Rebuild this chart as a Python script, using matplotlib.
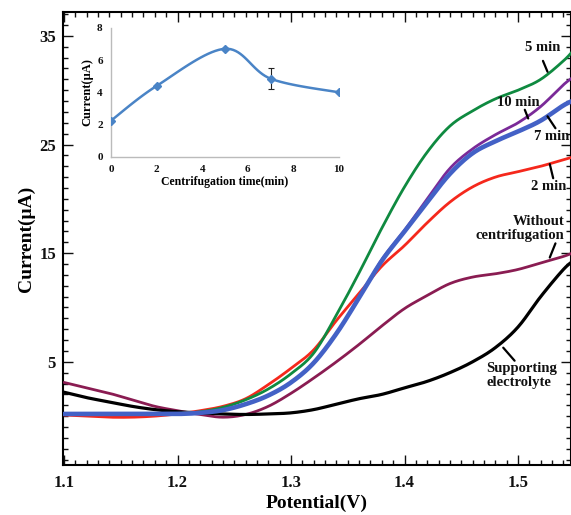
import numpy as np
import matplotlib
matplotlib.use("Agg")
import matplotlib.pyplot as plt
from matplotlib.ticker import MultipleLocator, FixedLocator

plt.rcParams['font.family'] = ['Liberation Serif', 'DejaVu Serif']
plt.rcParams['font.weight'] = 'bold'

# ---------------- data ----------------
potential = [1.10, 1.12, 1.14, 1.16, 1.18, 1.20, 1.22, 1.24, 1.26, 1.28, 1.30, 1.32,
             1.34, 1.36, 1.38, 1.40, 1.42, 1.44, 1.46, 1.48, 1.50, 1.52, 1.54, 1.55]

i_5min = [0.2, 0.2, 0.2, 0.2, 0.2, 0.25, 0.4, 0.8, 1.5, 2.5, 3.9, 5.8,
          9.3, 13.2, 17.3, 21.1, 24.3, 26.7, 28.1, 29.2, 30.0, 31.0, 32.7, 33.8]
i_10min = [0.2, 0.2, 0.2, 0.2, 0.2, 0.2, 0.3, 0.55, 1.1, 1.9, 3.1, 4.9,
           7.6, 10.9, 14.4, 17.1, 20.0, 22.8, 24.6, 25.9, 27.0, 28.5, 30.5, 31.3]
i_7min = [0.2, 0.2, 0.2, 0.2, 0.2, 0.2, 0.3, 0.55, 1.1, 1.9, 3.1, 4.9,
          7.6, 10.9, 14.3, 17.0, 19.7, 22.3, 24.2, 25.3, 26.2, 27.2, 28.6, 29.1]
i_2min = [0.1, 0.0, -0.1, -0.1, 0.0, 0.2, 0.5, 0.9, 1.6, 2.9, 4.4, 6.1,
          8.8, 11.3, 13.8, 15.7, 17.8, 19.7, 21.1, 22.0, 22.5, 23.0, 23.6, 23.9]
i_without = [3.1, 2.6, 2.1, 1.5, 0.9, 0.5, 0.15, -0.1, 0.15, 0.9, 2.1, 3.5,
             5.0, 6.6, 8.3, 9.9, 11.1, 12.2, 12.8, 13.1, 13.5, 14.1, 14.7, 15.1]
i_support = [2.2, 1.7, 1.3, 0.9, 0.6, 0.4, 0.3, 0.2, 0.15, 0.2, 0.3, 0.6,
             1.1, 1.6, 2.0, 2.6, 3.2, 4.0, 5.0, 6.3, 8.2, 11.0, 13.5, 14.4]

inset_time = [0, 2, 5, 7, 10]
inset_current = [2.25, 4.4, 6.7, 4.85, 4.0]
inset_err = [0, 0, 0, 0.65, 0]

x_major = [1.1, 1.2, 1.3, 1.4, 1.5]
y_major = [5, 15, 25, 35]


def smooth(xs, ys, n=20):
    """Bezier (Catmull-Rom style) smoothing for drawing through the points."""
    P = np.column_stack([xs, ys]).astype(float)
    Pe = np.vstack([P[0], P, P[-1]])
    out = []
    t = np.linspace(0, 1, n)[:, None]
    for i in range(len(P) - 1):
        p0, p1, p2, p3 = Pe[i], Pe[i + 1], Pe[i + 2], Pe[i + 3]
        c1 = p1 + (p2 - p0) / 6.0
        c2 = p2 - (p3 - p1) / 6.0
        seg = ((1 - t) ** 3) * p1 + 3 * ((1 - t) ** 2) * t * c1 + 3 * (1 - t) * t ** 2 * c2 + t ** 3 * p2
        out.append(seg if i == 0 else seg[1:])
    out = np.vstack(out)
    return out[:, 0], out[:, 1]


fig = plt.figure(figsize=(5.71, 5.15), dpi=100)
ax = fig.add_axes([63 / 571, 50 / 515, 1 - 63 / 571, 453 / 515])

series = [
    (i_without, '#8a1c52', 2.0),
    (i_support, '#000000', 2.3),
    (i_2min, '#f5281c', 2.0),
    (i_5min, '#0f8a40', 2.0),
    (i_10min, '#7a2a98', 2.0),
    (i_7min, '#4361c6', 3.3),
]
for ys, col, lw in series:
    sx, sy = smooth(potential, ys)
    ax.plot(sx, sy, color=col, lw=lw, solid_capstyle='round', zorder=3)

ax.set_xlim(1.0991, 1.5467)
ax.set_ylim(-4.5, 37.2)
ax.xaxis.set_major_locator(FixedLocator(x_major))
ax.xaxis.set_minor_locator(MultipleLocator(0.01))
ax.yaxis.set_major_locator(FixedLocator(y_major))
ax.yaxis.set_minor_locator(MultipleLocator(1))
ax.tick_params(which='both', direction='in', top=True, right=True, width=1.0,
               labelsize=12, colors='#111111')
ax.tick_params(which='major', length=7)
ax.tick_params(which='minor', length=3.5)
ax.tick_params(axis='x', pad=7)
ax.tick_params(axis='y', pad=5)
ax.set_xticklabels([f"{v:.1f}" for v in x_major], fontweight='bold')
ax.set_yticklabels([str(v) for v in y_major], fontweight='bold')
for s in ax.spines.values():
    s.set_linewidth(1.5)
ax.set_xlabel('Potential(V)', fontsize=14, fontweight='bold', labelpad=3)
ax.set_ylabel('Current(μA)', fontsize=14, fontweight='bold', labelpad=3)

# annotations
tk = dict(fontsize=10.5, fontweight='bold', color='#111111', zorder=5)
ap = dict(arrowstyle='-', lw=1.6, color='black', shrinkA=0, shrinkB=0)
ax.text(1.522, 33.9, '5 min', ha='center', va='center', **tk)
ax.annotate('', xy=(1.526, 31.7), xytext=(1.522, 32.7), arrowprops=ap)
ax.text(1.500, 28.9, '10 min', ha='center', va='center', **tk)
ax.annotate('', xy=(1.509, 27.4), xytext=(1.506, 28.2), arrowprops=ap)
ax.text(1.545, 25.7, '7 min', ha='right', va='center', **tk)
ax.annotate('', xy=(1.526, 27.6), xytext=(1.533, 26.5), arrowprops=ap)
ax.text(1.527, 21.1, '2 min', ha='center', va='center', **tk)
ax.annotate('', xy=(1.528, 23.2), xytext=(1.531, 21.9), arrowprops=ap)
ax.text(1.541, 17.3, 'Without\ncentrifugation', ha='right', va='center',
        multialignment='right', linespacing=1.1, **tk)
ax.annotate('', xy=(1.528, 14.6), xytext=(1.533, 15.9), arrowprops=ap)
ax.text(1.472, 3.7, 'Supporting\nelectrolyte', ha='left', va='center',
        multialignment='left', linespacing=1.1, **tk)
ax.annotate('', xy=(1.487, 6.3), xytext=(1.497, 5.1), arrowprops=ap)

# ---------------- inset ----------------
ins = fig.add_axes([111 / 571, (515 - 157) / 515, 228 / 571, 129.2 / 515])
ins.patch.set_alpha(0)
sx, sy = smooth(inset_time, inset_current)
ins.plot(sx, sy, color='#4a84c6', lw=1.8, zorder=3)
ins.errorbar(inset_time, inset_current, yerr=inset_err, fmt='none', ecolor='#222222',
             elinewidth=0.8, capsize=2.5, capthick=0.8, zorder=2)
ins.plot(inset_time, inset_current, linestyle='none', marker='D', markersize=4,
         color='#4a84c6', zorder=4)
ins.set_xlim(0, 10)
ins.set_ylim(0, 8)
ins.set_xticks([0, 2, 4, 6, 8, 10])
ins.set_yticks([0, 2, 4, 6, 8])
ins.tick_params(length=0, labelsize=8, pad=6, colors='#111111')
for lab in ins.get_xticklabels() + ins.get_yticklabels():
    lab.set_fontweight('bold')
for side in ['top', 'right']:
    ins.spines[side].set_visible(False)
for side in ['left', 'bottom']:
    ins.spines[side].set_color('#bbbbbb')
    ins.spines[side].set_linewidth(1.0)
ins.set_xlabel('Centrifugation time(min)', fontsize=8.5, fontweight='bold', labelpad=1)
ins.set_ylabel('Current(μA)', fontsize=9, fontweight='bold', labelpad=3)

fig.savefig('out.png', dpi=100)
